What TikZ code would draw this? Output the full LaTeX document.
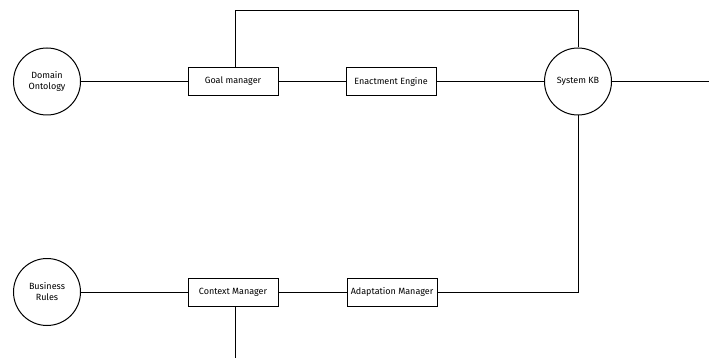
\documentclass[tikz,border=0pt]{standalone}
\usepackage{fontspec}
\setmainfont{Fira Sans}
\begin{document}
\begin{tikzpicture}[x=1pt,y=-1pt,
  line width=1pt,
  box/.style={draw,rectangle,minimum width=90pt,minimum height=28pt,inner sep=0pt,font=\fontsize{9}{10}\selectfont},
  circ/.style={draw,circle,minimum size=67pt,inner sep=0pt,align=center,font=\fontsize{9}{11}\selectfont}]
\useasboundingbox (0,0) rectangle (709,358);
\node[circ] (do) at (47,81.5) {Domain\\Ontology};
\node[box] (gm) at (233,81.5) {Goal manager};
\node[box] (ee) at (391,81.5) {Enactment Engine};
\node[circ] (kb) at (578,81.5) {System KB};
\node[circ] (br) at (47,292) {Business\\Rules};
\node[box] (cm) at (233,292) {Context Manager};
\node[box] (am) at (392,292) {Adaptation Manager};
\coordinate (r) at (709,81.5);
\coordinate (bot) at (235,358);
\draw (do) -- (gm);
\draw (gm) -- (ee);
\draw (ee) -- (kb);
\draw (kb) -- (r);
\draw (gm.north -| 235,0) -- (235,11) -| (kb.north);
\draw (br) -- (cm);
\draw (cm) -- (am);
\draw (am.east) -| (kb.south);
\draw (cm.south -| bot) -- (bot);
\end{tikzpicture}
\end{document}
